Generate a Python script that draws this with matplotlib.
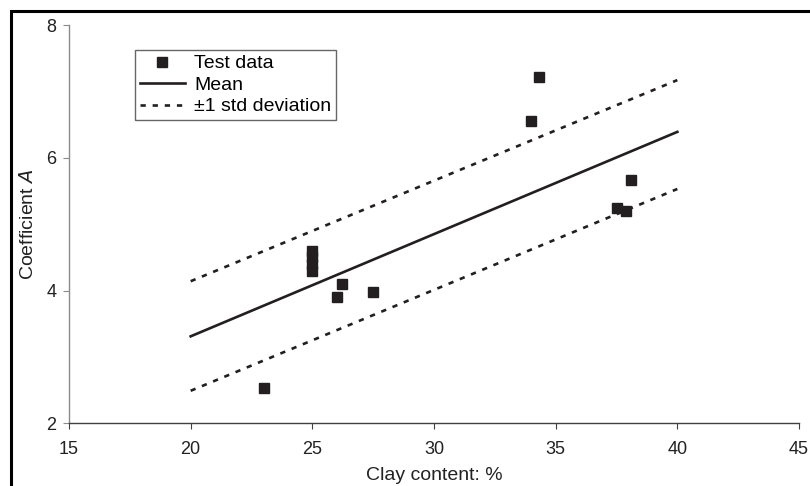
import matplotlib
matplotlib.use("Agg")
import matplotlib.pyplot as plt
from matplotlib.patches import Rectangle

plt.rcParams['font.family'] = ['Liberation Sans', 'DejaVu Sans']

# Data
clay = [23.0, 25.0, 25.0, 25.0, 25.0, 26.2, 26.0, 27.5, 34.0, 34.3, 37.5, 37.9, 38.1]
coef = [2.53, 4.30, 4.40, 4.50, 4.60, 4.10, 3.91, 3.98, 6.56, 7.22, 5.24, 5.20, 5.66]
line_x = [20, 40]
mean_y = [3.31, 6.39]
upper_y = [4.14, 7.17]
lower_y = [2.49, 5.53]
xticks = [15, 20, 25, 30, 35, 40, 45]
yticks = [2, 4, 6, 8]

ink = '#231f20'
txt = '#222222'
fig = plt.figure(figsize=(8.1, 4.86), dpi=100)
ax = fig.add_axes([69/810, 1-423.3/486, (799-69)/810, (423.3-25)/486])

ax.plot(clay, coef, linestyle='none', marker='s', markersize=6.5, color=ink,
        label='Test data')
ax.plot(line_x, mean_y, color=ink, lw=1.9, label='Mean')
ax.plot(line_x, upper_y, color=ink, lw=1.9, dashes=(2.0, 2.6),
        label='±1 std deviation')
ax.plot(line_x, lower_y, color=ink, lw=1.9, dashes=(2.0, 2.6))

ax.set_xlim(15, 45)
ax.set_ylim(2, 8)
ax.set_xticks(xticks)
ax.set_yticks(yticks)
for s in ['top', 'right']:
    ax.spines[s].set_visible(False)
ax.spines['left'].set_color('#8a8a8a')
ax.spines['bottom'].set_color('#404040')
ax.spines['left'].set_linewidth(1.0)
ax.spines['bottom'].set_linewidth(1.0)
ax.tick_params(axis='y', direction='out', length=4, color='#8a8a8a',
               labelsize=13, labelcolor=txt, pad=5)
ax.tick_params(axis='x', direction='out', length=4, color='#404040',
               labelsize=13, labelcolor=txt, pad=9)

ax.set_xlabel('Clay content: %', fontsize=14, color=txt, labelpad=6)
ax.set_ylabel('Coefficient $\\it{A}$', fontsize=14, color=txt, labelpad=7)

leg = ax.legend(loc='upper left', bbox_to_anchor=((135-69)/730, (423.3-50)/398.3),
                fontsize=14, frameon=True, fancybox=False, borderpad=0.25,
                handlelength=2.3, handletextpad=0.5, labelspacing=0.2,
                borderaxespad=0)
leg.get_frame().set_edgecolor('#404040')
leg.get_frame().set_linewidth(1.0)

fig.patches.append(Rectangle((11/810, -0.1), 1.2, 1 - 11/486 + 0.1,
                             transform=fig.transFigure, fill=False,
                             edgecolor='black', lw=2.2, zorder=10))

fig.savefig('out.png', dpi=100)
